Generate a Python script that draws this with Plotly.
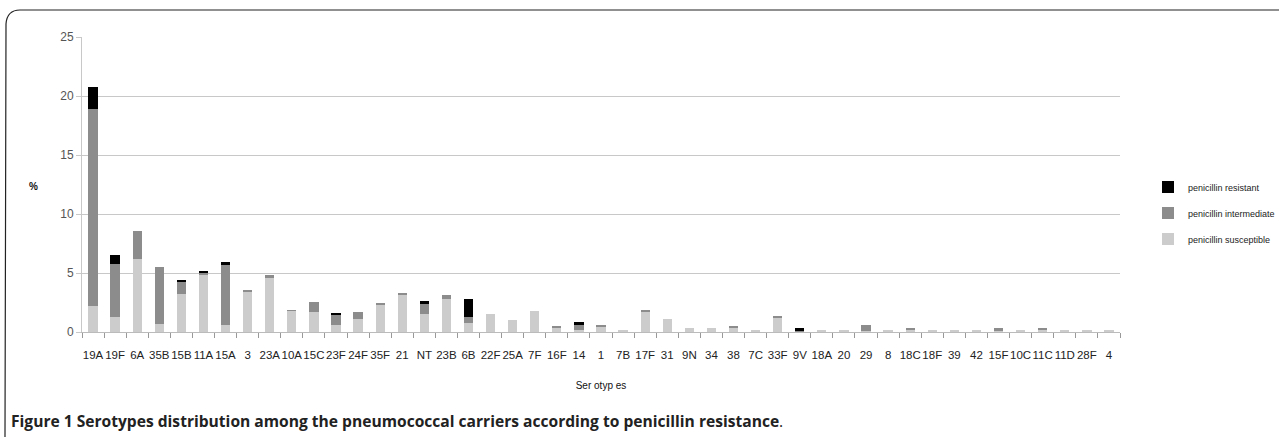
import plotly.graph_objects as go

serotypes = ["19A","19F","6A","35B","15B","11A","15A","3","23A","10A","15C","23F","24F","35F","21","NT","23B","6B","22F","25A","7F","16F","14","1","7B","17F","31","9N","34","38","7C","33F","9V","18A","20","29","8","18C","18F","39","42","15F","10C","11C","11D","28F","4"]

susceptible = [2.2,1.3,6.2,0.7,3.25,4.8,0.6,3.45,4.55,1.8,1.7,0.6,1.1,2.3,3.2,1.5,2.8,0.75,1.5,1.0,1.8,0.3,0.2,0.5,0.2,1.75,1.1,0.3,0.3,0.35,0.2,1.2,0.05,0.1,0.2,0.05,0.15,0.2,0.2,0.1,0.1,0.05,0.1,0.2,0.1,0.1,0.2]
intermediate = [16.7,4.45,2.4,4.8,1.05,0.2,5.1,0.05,0.25,0.05,0.85,0.85,0.6,0.1,0.05,0.95,0.3,0.55,0.0,0.0,0.0,0.25,0.4,0.05,0.0,0.1,0.0,0.0,0.0,0.1,0.0,0.1,0.1,0.0,0.0,0.55,0.0,0.1,0.0,0.0,0.0,0.25,0.0,0.1,0.0,0.0,0.0]
resistant = [1.9,0.75,0.0,0.0,0.1,0.1,0.25,0.0,0.0,0.0,0.0,0.15,0.0,0.0,0.0,0.15,0.0,1.5,0.0,0.0,0.0,0.0,0.25,0.0,0.0,0.0,0.0,0.0,0.0,0.0,0.0,0.0,0.15,0.0,0.0,0.0,0.0,0.0,0.0,0.0,0.0,0.0,0.0,0.0,0.0,0.0,0.0]

y_ticks = [0, 5, 10, 15, 20, 25]

W, H = 1279, 437
ML, MR, MT, MB = 82, 159, 37, 105
PW, PH = W - ML - MR, H - MT - MB


def px(x):
    return (x - ML) / PW


def py(y):
    return (H - MB - y) / PH


fig = go.Figure()
series = [
    ("penicillin susceptible", susceptible, "#cccccc", 3),
    ("penicillin intermediate", intermediate, "#8c8c8c", 2),
    ("penicillin resistant", resistant, "#000000", 1),
]
for name, vals, col, rank in series:
    fig.add_trace(go.Bar(x=serotypes, y=vals, name=name, legendgroup=name, legendrank=rank,
                         marker=dict(color=col, line=dict(width=0))))

fig.update_layout(
    barmode="stack",
    bargap=0.58,
    width=W, height=H,
    margin=dict(l=ML, r=MR, t=MT, b=MB, autoexpand=False),
    paper_bgcolor="white", plot_bgcolor="white",
    font=dict(family="Liberation Sans, Arial, sans-serif", color="#333"),
    legend=dict(x=px(1148), y=py(213), yanchor="middle", xanchor="left",
                traceorder="grouped", tracegroupgap=7,
                font=dict(size=9, family="Liberation Sans, Arial", color="#222"),
                itemwidth=30),
    showlegend=True,
)
fig.update_xaxes(type="category", tickson="boundaries", ticks="outside", ticklen=5,
                 tickcolor="#999", showline=True, linecolor="#bbb", linewidth=1,
                 tickangle=0, ticklabelstandoff=12,
                 tickfont=dict(size=11.5, color="#222"),
                 title=dict(text="Ser otyp es", font=dict(size=10, color="#111",
                            family="Liberation Sans Narrow, Liberation Sans, Arial"), standoff=22))
fig.update_yaxes(range=[0, 25], tickvals=y_ticks, showgrid=True, gridcolor="#c8c8c8",
                 gridwidth=1, ticks="outside", ticklen=5, tickcolor="#c8c8c8",
                 showline=True, linecolor="#c8c8c8", zeroline=False,
                 tickfont=dict(size=12, color="#555"))

# "%" y-axis label (horizontal)
fig.add_annotation(text="<b>%</b>", xref="paper", yref="paper", x=px(33), y=py(186),
                   xanchor="center", yanchor="middle",
                   showarrow=False, font=dict(size=10, color="#111"))

# frame around chart (rounded top-left corner)
path = "M {} {} L {} {} Q {} {} {} {} L {} {}".format(
    px(1279), py(10), px(20), py(10), px(7), py(10), px(6), py(24), px(5), py(437))
fig.add_shape(type="path", xref="paper", yref="paper", path=path,
              line=dict(color="#222", width=1.2), layer="above")

# caption
fig.add_annotation(text="<b>Figure 1 Serotypes distribution among the pneumococcal carriers according to penicillin resistance</b>.",
                   xref="paper", yref="paper", x=px(9), y=py(421), xanchor="left", yanchor="middle",
                   showarrow=False, font=dict(size=15.6, color="#222", family="Open Sans, Noto Sans, sans-serif"))

fig.write_html("out.html", config={"displayModeBar": False},
               post_script="document.body.style.margin='0';document.body.style.overflow='hidden';")
